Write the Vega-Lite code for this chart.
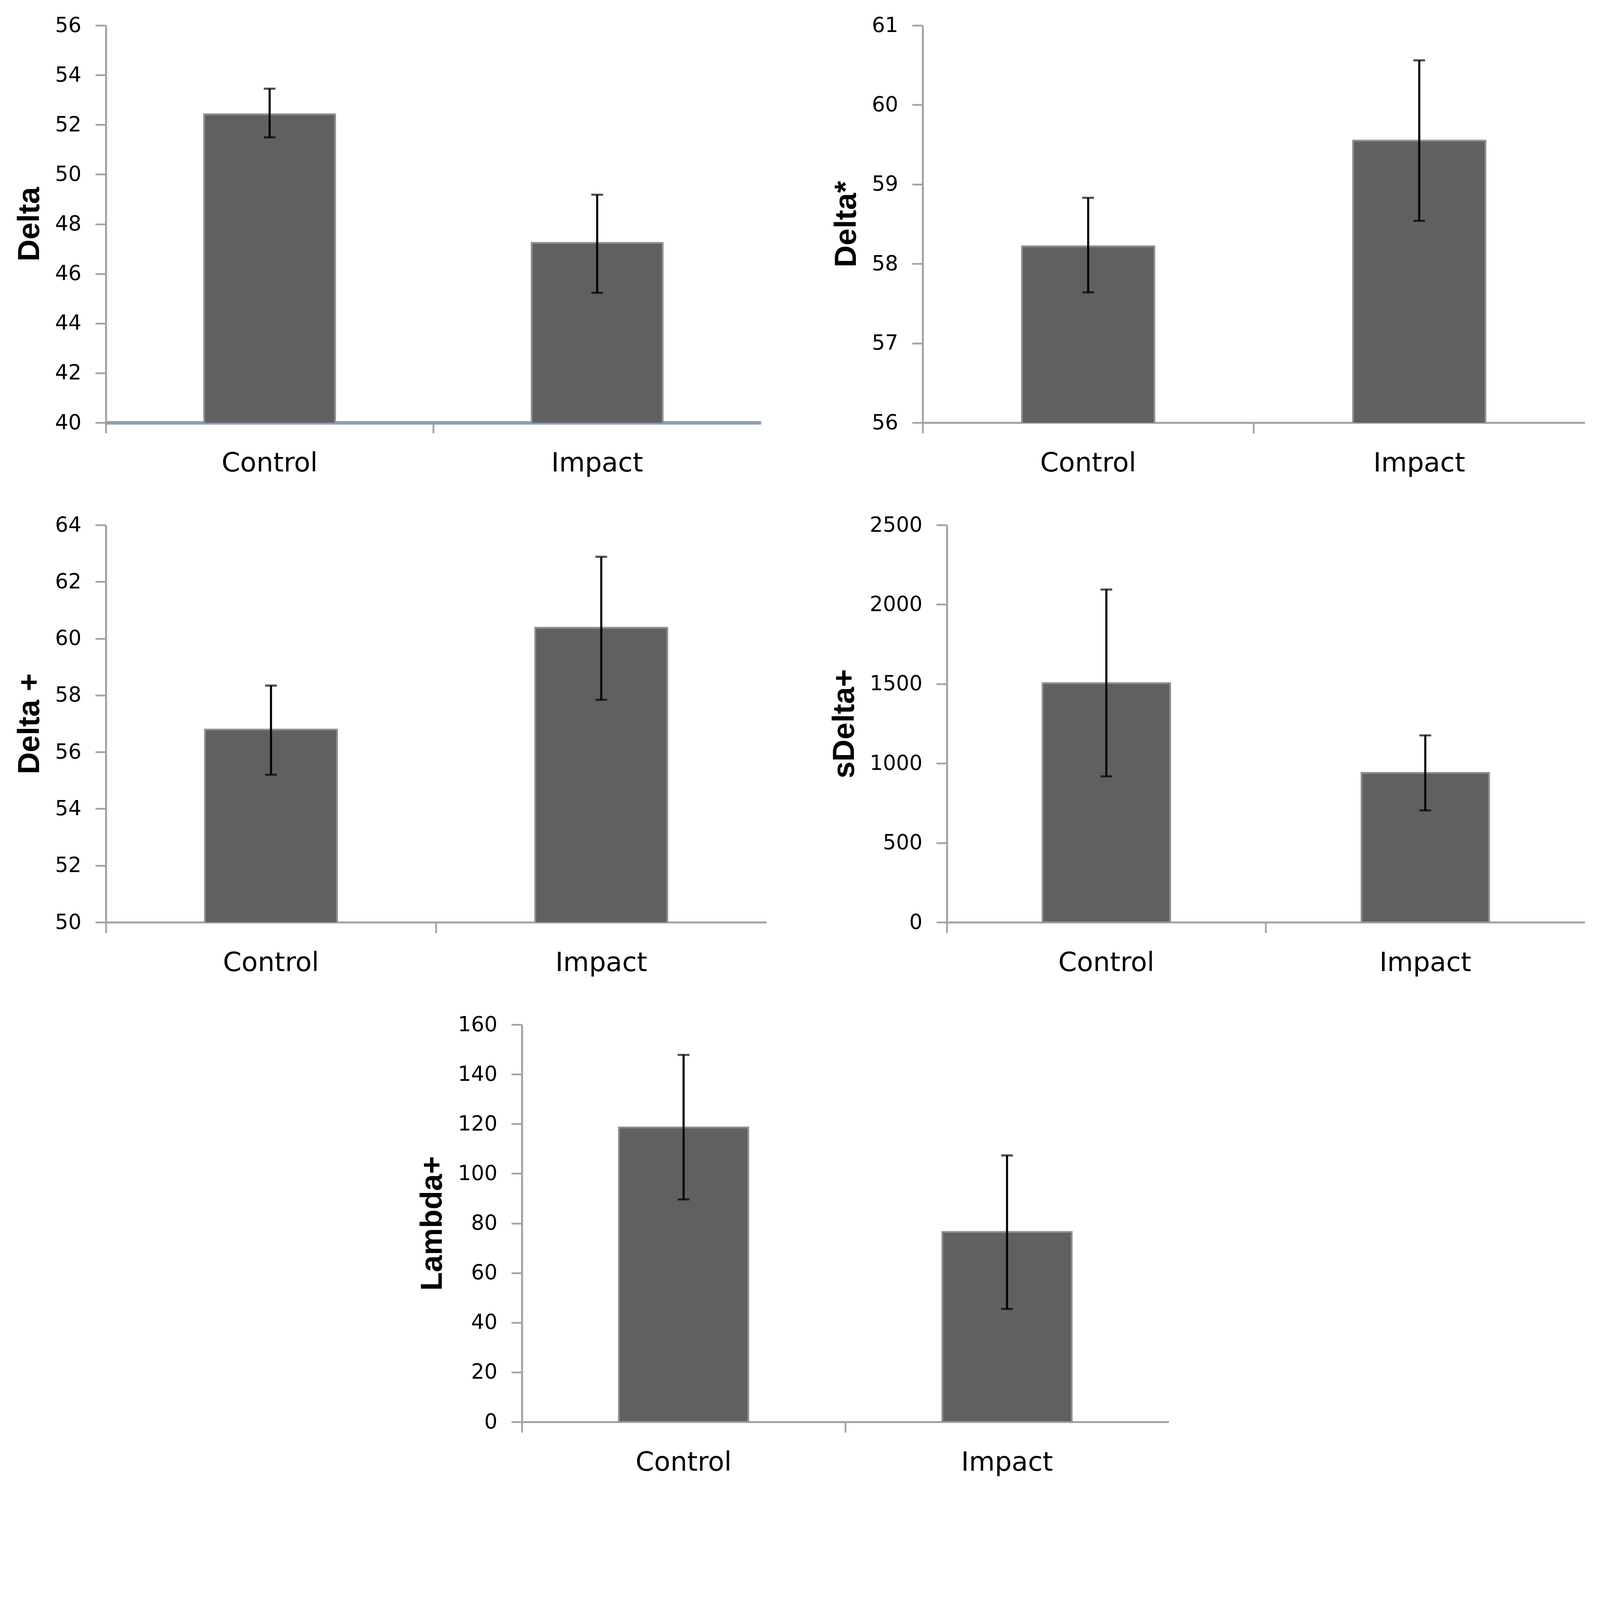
{
  "$schema": "https://vega.github.io/schema/vega-lite/v6.json",
  "background": "white",
  "padding": {"left": 37, "top": 39, "right": 10, "bottom": 30},
  "datasets": {
    "delta": [
      {"group": "Control", "mean": 52.42, "lo": 51.49, "hi": 53.45},
      {"group": "Impact", "mean": 47.24, "lo": 45.23, "hi": 49.18}
    ],
    "deltaStar": [
      {"group": "Control", "mean": 58.22, "lo": 57.64, "hi": 58.83},
      {"group": "Impact", "mean": 59.55, "lo": 58.54, "hi": 60.56}
    ],
    "deltaPlus": [
      {"group": "Control", "mean": 56.79, "lo": 55.2, "hi": 58.34},
      {"group": "Impact", "mean": 60.38, "lo": 57.84, "hi": 62.88}
    ],
    "sDeltaPlus": [
      {"group": "Control", "mean": 1505, "lo": 918, "hi": 2094},
      {"group": "Impact", "mean": 940, "lo": 704, "hi": 1176}
    ],
    "lambdaPlus": [
      {"group": "Control", "mean": 118.6, "lo": 89.6, "hi": 147.8},
      {"group": "Impact", "mean": 76.5, "lo": 45.5, "hi": 107.3}
    ]
  },
  "spacing": 98,
  "center": true,
  "vconcat": [
    {
      "spacing": 180,
      "hconcat": [
        {
          "width": 1677,
          "height": 1017,
          "data": {"name": "delta"},
          "encoding": {
            "x": {
              "field": "group", "type": "nominal", "sort": null, "title": null,
              "scale": {"paddingInner": 0, "paddingOuter": 0},
              "axis": {"bandPosition": 0, "domainColor": "#8d9db3", "domainWidth": 9}
            }
          },
          "layer": [
            {
              "mark": {"type": "bar", "clip": true, "width": {"band": 0.4}, "fill": "#606060", "stroke": "#8f8f8f", "strokeWidth": 4.5},
              "encoding": {
                "y": {"field": "mean", "type": "quantitative", "title": "Delta",
                  "scale": {"domain": [40, 56], "nice": false, "zero": false},
                  "axis": {"values": [40, 42, 44, 46, 48, 50, 52, 54, 56]}}
              }
            },
            {
              "mark": {"type": "errorbar", "ticks": {"size": 30}, "thickness": 5.3, "color": "#000000"},
              "encoding": {
                "y": {"field": "lo", "type": "quantitative", "title": "Delta",
                  "scale": {"domain": [40, 56], "nice": false, "zero": false}},
                "y2": {"field": "hi"}
              }
            }
          ]
        },
        {
          "width": 1695,
          "height": 1017,
          "data": {"name": "deltaStar"},
          "encoding": {
            "x": {
              "field": "group", "type": "nominal", "sort": null, "title": null,
              "scale": {"paddingInner": 0, "paddingOuter": 0},
              "axis": {"bandPosition": 0}
            }
          },
          "layer": [
            {
              "mark": {"type": "bar", "clip": true, "width": {"band": 0.4}, "fill": "#606060", "stroke": "#8f8f8f", "strokeWidth": 4.5},
              "encoding": {
                "y": {"field": "mean", "type": "quantitative", "title": "Delta*",
                  "scale": {"domain": [56, 61], "nice": false, "zero": false},
                  "axis": {"values": [56, 57, 58, 59, 60, 61]}}
              }
            },
            {
              "mark": {"type": "errorbar", "ticks": {"size": 30}, "thickness": 5.3, "color": "#000000"},
              "encoding": {
                "y": {"field": "lo", "type": "quantitative", "title": "Delta*",
                  "scale": {"domain": [56, 61], "nice": false, "zero": false}},
                "y2": {"field": "hi"}
              }
            }
          ]
        }
      ]
    },
    {
      "spacing": 161,
      "hconcat": [
        {
          "width": 1691,
          "height": 1017,
          "data": {"name": "deltaPlus"},
          "encoding": {
            "x": {
              "field": "group", "type": "nominal", "sort": null, "title": null,
              "scale": {"paddingInner": 0, "paddingOuter": 0},
              "axis": {"bandPosition": 0}
            }
          },
          "layer": [
            {
              "mark": {"type": "bar", "clip": true, "width": {"band": 0.4}, "fill": "#606060", "stroke": "#8f8f8f", "strokeWidth": 4.5},
              "encoding": {
                "y": {"field": "mean", "type": "quantitative", "title": "Delta +",
                  "scale": {"domain": [50, 64], "nice": false, "zero": false},
                  "axis": {"values": [50, 52, 54, 56, 58, 60, 62, 64]}}
              }
            },
            {
              "mark": {"type": "errorbar", "ticks": {"size": 30}, "thickness": 5.3, "color": "#000000"},
              "encoding": {
                "y": {"field": "lo", "type": "quantitative", "title": "Delta +",
                  "scale": {"domain": [50, 64], "nice": false, "zero": false}},
                "y2": {"field": "hi"}
              }
            }
          ]
        },
        {
          "width": 1633,
          "height": 1017,
          "data": {"name": "sDeltaPlus"},
          "encoding": {
            "x": {
              "field": "group", "type": "nominal", "sort": null, "title": null,
              "scale": {"paddingInner": 0, "paddingOuter": 0},
              "axis": {"bandPosition": 0}
            }
          },
          "layer": [
            {
              "mark": {"type": "bar", "clip": true, "width": {"band": 0.4}, "fill": "#606060", "stroke": "#8f8f8f", "strokeWidth": 4.5},
              "encoding": {
                "y": {"field": "mean", "type": "quantitative", "title": "sDelta+",
                  "scale": {"domain": [0, 2500], "nice": false},
                  "axis": {"values": [0, 500, 1000, 1500, 2000, 2500]}}
              }
            },
            {
              "mark": {"type": "errorbar", "ticks": {"size": 30}, "thickness": 5.3, "color": "#000000"},
              "encoding": {
                "y": {"field": "lo", "type": "quantitative", "title": "sDelta+",
                  "scale": {"domain": [0, 2500], "nice": false}},
                "y2": {"field": "hi"}
              }
            }
          ]
        }
      ]
    },
    {
      "width": 1656,
      "height": 1017,
      "data": {"name": "lambdaPlus"},
      "encoding": {
        "x": {
          "field": "group", "type": "nominal", "sort": null, "title": null,
          "scale": {"paddingInner": 0, "paddingOuter": 0},
          "axis": {"bandPosition": 0}
        }
      },
      "layer": [
        {
          "mark": {"type": "bar", "clip": true, "width": {"band": 0.4}, "fill": "#606060", "stroke": "#8f8f8f", "strokeWidth": 4.5},
          "encoding": {
            "y": {"field": "mean", "type": "quantitative", "title": "Lambda+",
              "scale": {"domain": [0, 160], "nice": false},
              "axis": {"values": [0, 20, 40, 60, 80, 100, 120, 140, 160]}}
          }
        },
        {
          "mark": {"type": "errorbar", "ticks": {"size": 30}, "thickness": 5.3, "color": "#000000"},
          "encoding": {
            "y": {"field": "lo", "type": "quantitative", "title": "Lambda+",
              "scale": {"domain": [0, 160], "nice": false}},
            "y2": {"field": "hi"}
          }
        }
      ]
    }
  ],
  "config": {
    "view": {"stroke": null},
    "axis": {
      "grid": false,
      "zindex": 1,
      "domainColor": "#a3a3a3",
      "domainWidth": 5,
      "tickColor": "#a3a3a3",
      "tickWidth": 4.5,
      "tickSize": 27,
      "labelFont": "DejaVu Sans",
      "labelFontSize": 53,
      "labelColor": "#000000",
      "labelPadding": 36,
      "labelLimit": 0,
      "titleFont": "Liberation Sans",
      "titleFontWeight": "bold",
      "titleFontSize": 78,
      "titleColor": "#000000",
      "titlePadding": 25
    },
    "axisY": {
      "format": "d"
    },
    "axisX": {
      "labelAngle": 0,
      "labelFontSize": 68,
      "labelPadding": 43,
      "labelOverlap": false
    }
  }
}
